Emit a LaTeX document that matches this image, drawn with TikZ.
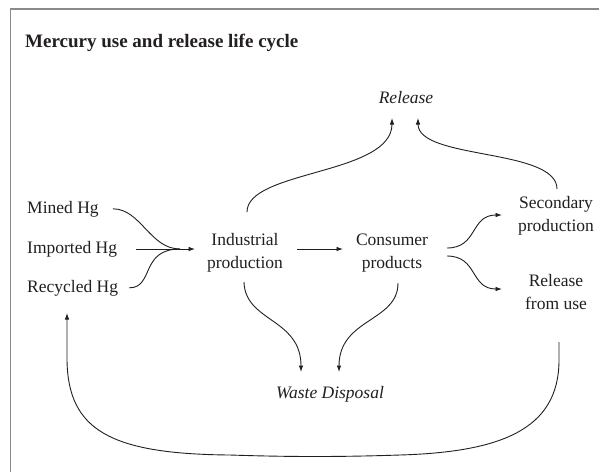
\documentclass[tikz,border=0pt]{standalone}
\usepackage{fontspec}
\setmainfont{Liberation Serif}
\usetikzlibrary{arrows.meta}
\definecolor{ink}{HTML}{231F20}
\definecolor{framegray}{HTML}{8A8A8A}
\begin{document}
\begin{tikzpicture}[x=1pt,y=-1pt,
  lbl/.style={font=\fontsize{17.5}{23}\selectfont, text=ink, inner sep=0pt, align=center},
  ital/.style={font=\fontsize{17.5}{23}\selectfont\itshape, text=ink, inner sep=0pt},
  titlestyle/.style={font=\fontsize{19}{23}\selectfont\bfseries, text=ink, inner sep=0pt},
  link/.style={draw=ink, line width=0.9pt},
  flow/.style={link, -{Latex[length=6.5pt,width=4.6pt]}},
  framestyle/.style={draw=framegray, line width=1.6pt}]
\fill[white] (0,0) rectangle (599,472);
\useasboundingbox (0,0) rectangle (599,472);
\draw[framestyle] (10.5,472) -- (10.5,9.2) -- (599,9.2);

\node[titlestyle, anchor=base west] (title) at (25,47) {Mercury use and release life cycle};

\node[lbl, anchor=base west] (mined) at (27,213) {Mined Hg};
\node[lbl, anchor=base west] (imported) at (27,253) {Imported Hg};
\node[lbl, anchor=base west] (recycled) at (27,292) {Recycled Hg};
\node[lbl] (ind) at (245,253) {Industrial\\production};
\node[lbl] (cons) at (392,253) {Consumer\\products};
\node[lbl] (sec) at (556,216) {Secondary\\production};
\node[lbl] (rfu) at (556,292) {Release\\from use};
\node[ital, anchor=base] (rel) at (406,103) {Release};
\node[ital, anchor=base] (waste) at (330,398) {Waste Disposal};

\coordinate (mergept) at (180,249);
\coordinate (indin) at (195,249);
\coordinate (indout) at (297,249);
\coordinate (consin) at (343,249);
\coordinate (consA) at (447,248);
\coordinate (secin) at (502,215);
\coordinate (consB) at (447,256);
\coordinate (rfuin) at (502,289);
\coordinate (indup) at (247,212);
\coordinate (relL) at (392,118);
\coordinate (secup) at (557,189);
\coordinate (relR) at (418,118);
\coordinate (inddn) at (244,282);
\coordinate (wasteL) at (301,372);
\coordinate (consdn) at (398,283);
\coordinate (wasteR) at (339,372);
\coordinate (rfudn) at (559,342);
\coordinate (recin) at (67,313);

\draw[link] ([xshift=14pt]mined.east) .. controls +(28,0) and (150,249) .. (mergept);
\draw[link] ([xshift=11pt]recycled.east) .. controls +(25,0) and (140,249) .. (mergept);
\draw[flow] ([xshift=19pt]imported.east |- indin) -- (indin);

\draw[flow] (indout) -- (consin);
\draw[flow] (consA) .. controls (478,248) and (470,215) .. (secin);
\draw[flow] (consB) .. controls (478,256) and (470,289) .. (rfuin);
\draw[flow] (indup) .. controls (247,170) and (392,175) .. (relL);
\draw[flow] (secup) .. controls (557,148) and (418,160) .. (relR);
\draw[flow] (inddn) .. controls (245,322) and (301,318) .. (wasteL);
\draw[flow] (consdn) .. controls (398,322) and (339,318) .. (wasteR);
\draw[flow] (rfudn) -- (559,360) .. controls (559,430) and (500,452) .. (400,455)
  .. controls (340,457) and (290,457) .. (230,455)
  .. controls (110,454) and (68,430) .. (67,360) -- (recin);
\end{tikzpicture}
\end{document}
